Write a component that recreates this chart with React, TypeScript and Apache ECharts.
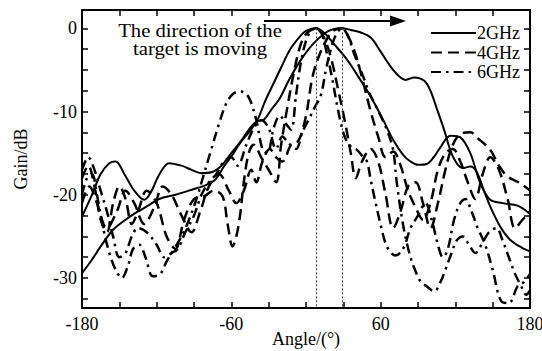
import React, { useEffect, useRef } from "react";
import * as echarts from "echarts";

// ---- data: [angle (deg), gain (dB)] ----
const s2GHzA: number[][] = [
  [-180, -29.4], [-172, -27.8], [-165, -26.2], [-155, -24.2], [-145, -23], [-135, -22], [-128, -21.4],
  [-118, -20.5], [-105, -20], [-92, -19.4], [-80, -18.8], [-73, -18.2], [-66, -16.6], [-60, -15.4],
  [-53, -13.8], [-46, -12.5], [-39, -11], [-33, -8.8], [-26, -6.6], [-19, -4.4], [-13, -2.6], [-5, -1],
  [0, -0.3], [8, 0], [15, -0.6], [22, -1.8], [30, -3.2], [35, -4.2], [42, -5.8], [48, -7.2], [55, -9],
  [62, -11], [70, -13.4], [78, -15.2], [84, -16], [90, -16.4], [97, -16.3], [103, -15.4], [108, -14.3],
  [116, -12.9], [124, -13.1], [132, -15], [140, -18.6], [148, -20.6], [158, -21], [170, -21.3], [180, -22.3],
];
const s2GHzB: number[][] = [
  [-180, -22.6], [-172, -20], [-165, -17.5], [-158, -16.2], [-153, -16], [-146, -17.5], [-138, -19.5],
  [-130, -20.6], [-124, -19.5], [-118, -17.6], [-110, -16.2], [-100, -16.5], [-92, -17], [-84, -17.4],
  [-76, -17.3], [-68, -16.5], [-60, -15], [-52, -13.5], [-46, -12.2], [-40, -11.2], [-34, -11],
  [-28, -9.8], [-21, -8.4], [-14, -6.3], [-5, -4], [5, -2], [15, -0.6], [22, -0.1], [29, 0], [36, -0.2],
  [44, -0.5], [52, -1.1], [60, -2.8], [68, -4.6], [75, -5.8], [80, -6.2], [87, -5.9], [95, -6.3],
  [100, -7.5], [105, -9.6], [111, -12.2], [118, -15.4], [126, -16.8], [132, -16.6], [137, -17.2],
  [143, -19.5], [148, -21.4], [156, -23.8], [164, -25.4], [174, -26.4], [180, -26.8],
];
const s4GHzA: number[][] = [
  [-180, -18], [-175, -16.5], [-170, -19], [-165, -23], [-160, -24.5], [-155, -21], [-150, -19],
  [-145, -20.5], [-140, -23.5], [-135, -22], [-128, -19.5], [-120, -21], [-112, -25], [-105, -26.5],
  [-98, -23], [-90, -20.5], [-82, -20.2], [-74, -19.5], [-67, -20.2], [-63, -23.5], [-59, -26.2],
  [-56, -25], [-53, -22.5], [-50, -18.5], [-46, -15], [-42, -14], [-36, -15.5], [-30, -17], [-24, -18.5],
  [-20, -14], [-15, -9.5], [-10, -5.5], [-5, -2.3], [0, -0.7], [8, 0], [14, -1], [20, -3.5], [26, -7.5],
  [31, -11], [36, -15], [40, -18], [45, -16], [52, -14.5], [58, -16], [64, -20], [70, -24], [76, -22],
  [82, -19], [88, -18.5], [94, -21], [100, -24], [106, -21], [112, -17], [118, -14], [125, -12.6],
  [132, -12.5], [138, -13.2], [148, -14.6], [155, -16.5], [162, -17.8], [172, -18.6], [180, -19.5],
];
const s4GHzB: number[][] = [
  [-180, -21], [-174, -19], [-168, -21], [-160, -24], [-152, -22], [-145, -19.5], [-138, -21],
  [-130, -23.5], [-122, -21.5], [-115, -19], [-108, -20], [-100, -22.5], [-92, -24.5], [-85, -22],
  [-78, -19], [-70, -17.5], [-62, -19.5], [-56, -21], [-50, -19.5], [-44, -17], [-40, -18.5],
  [-35, -16], [-29, -14.5], [-24, -15.5], [-19, -16], [-12, -14], [-6, -13.5], [0, -10.5], [5, -6],
  [10, -3.5], [16, -1.5], [22, -0.3], [29, 0], [34, -1], [40, -3.2], [46, -6.5], [52, -10], [58, -13],
  [64, -15.5], [70, -14.8], [76, -16.5], [82, -19.5], [88, -21.5], [94, -23], [100, -21], [106, -17],
  [112, -15], [118, -14.5], [124, -16], [130, -18.5], [136, -20.5], [142, -17.5], [148, -15.5],
  [155, -17], [162, -20.5], [168, -24], [174, -23], [180, -22],
];
const s6GHzA: number[][] = [
  [-180, -20], [-176, -18], [-172, -17.5], [-168, -20], [-163, -24], [-158, -27], [-153, -29],
  [-148, -30], [-143, -28.5], [-139, -26.5], [-134, -26], [-129, -27.5], [-123, -29.8], [-117, -29.5],
  [-112, -28], [-106, -26.5], [-100, -25], [-94, -23], [-88, -20.5], [-82, -17.5], [-76, -14.5],
  [-70, -11.5], [-64, -9], [-58, -7.8], [-52, -7.6], [-46, -8.3], [-40, -11], [-35, -14.5], [-31, -15],
  [-26, -12], [-21, -10.5], [-16, -11.5], [-12, -12.2], [-8, -8], [-4, -4], [0, -1.5], [4, -0.3],
  [8, 0], [12, -0.5], [16, -2.5], [21, -6], [26, -10], [31, -13], [36, -14.2], [41, -14.6], [46, -15.5],
  [49, -16], [52, -18.2], [56, -21], [60, -23.6], [65, -26.2], [72, -27.3], [78, -26.5], [84, -24],
  [90, -22.5], [96, -21], [101, -23], [106, -26], [110, -27.5], [114, -26.5], [119, -23], [124, -21],
  [128, -20.5], [133, -22], [138, -24], [144, -26], [150, -29], [157, -32.8], [163, -33], [170, -31],
  [175, -30.5], [180, -29.5],
];
const s6GHzB: number[][] = [
  [-180, -17], [-175, -15.5], [-170, -17], [-165, -19.5], [-160, -22], [-155, -25], [-150, -27.5],
  [-145, -27], [-140, -25], [-135, -24], [-128, -24.5], [-120, -26], [-114, -27.5], [-108, -27],
  [-103, -26.5], [-97, -24.5], [-90, -22.5], [-84, -20], [-78, -18.5], [-72, -17.5], [-66, -16],
  [-60, -15.5], [-55, -16.5], [-48, -14], [-42, -12], [-36, -11], [-30, -12], [-24, -14.5], [-19, -13],
  [-14, -13.8], [-8, -14.5], [-3, -12.5], [2, -11], [7, -9.5], [12, -8], [16, -5], [20, -2.5],
  [24, -0.8], [29, 0], [34, -1], [38, -2.8], [43, -4.7], [47, -6.2], [51, -7.8], [55, -9], [59, -10.2],
  [65, -12.2], [70, -14.6], [73, -18.6], [78, -23.6], [83, -27], [87, -28.8], [92, -30.4], [97, -31],
  [103, -31.6], [108, -30.5], [112, -29], [117, -27], [121, -25.5], [126, -25], [131, -26], [136, -27],
  [141, -26], [147, -24.5], [153, -24], [158, -25.5], [163, -27.5], [168, -29.5], [173, -31],
  [177, -32], [180, -31.5],
];
const beamAngles = [8, 29];
const xLabels = [-180, -60, 60, 180];
const xTicks = [-180, -150, -120, -90, -60, -30, 0, 30, 60, 90, 120, 150, 180];
const yLabels = [0, -10, -20, -30];
const yTicks = [0, -2.5, -5, -7.5, -10, -12.5, -15, -17.5, -20, -22.5, -25, -27.5, -30, -32.5];
const seriesNames = ["2GHz", "4GHz", "6GHz"];
const annotation = ["The direction of the", "target is moving"];

const FONT = "Liberation Serif";
const Y_MIN = -33.6;
const Y_MAX = 2.2;

export default function App() {
  const ref = useRef<HTMLDivElement>(null);
  useEffect(() => {
    if (!ref.current) return;
    const chart = echarts.init(ref.current, null, { renderer: "svg" });
    const axisLine = { show: true, onZero: false, lineStyle: { color: "#000", width: 2 } };
    const tickStyle = { color: "#000", width: 1.5 };
    const lbl = { color: "#000", fontSize: 18, fontFamily: FONT };
    const solid = { color: "#000", width: 2, type: "solid" as const };
    const dashed = { color: "#000", width: 2.5, type: [11, 6] as any };
    const dashDot = { color: "#000", width: 2.5, type: [10, 5, 2.5, 5] as any };
    const mk = (name: string, data: number[][], lineStyle: any, extra: any = {}) => ({
      type: "line",
      name,
      data,
      smooth: 0.35,
      symbol: "none",
      symbolSize: 0,
      showSymbol: false,
      lineStyle,
      itemStyle: { color: "#000" },
      ...extra,
    });
    const txt = (text: string, y: number) => ({
      type: "text",
      x: 200,
      y,
      scaleX: 1.15,
      style: {
        text,
        fontFamily: FONT,
        fontSize: 18,
        fill: "#000",
        align: "center",
        verticalAlign: "middle",
      },
    });
    chart.setOption({
      animation: false,
      backgroundColor: "#fff",
      grid: { left: 82, right: 12, top: 10, bottom: 43, containLabel: false, outerBoundsMode: "none" },
      legend: {
        orient: "vertical",
        right: 17,
        top: 19,
        itemWidth: 45,
        itemHeight: 14,
        itemGap: 1.5,
        data: seriesNames,
        itemStyle: { opacity: 0 },
        textStyle: { ...lbl, lineHeight: 16, padding: [0, 0, 0, -4] },
      },
      xAxis: [
        {
          type: "value",
          min: -180,
          max: 180,
          interval: 30,
          position: "bottom",
          axisLine,
          axisTick: { inside: true, length: 6, lineStyle: tickStyle, customValues: xTicks },
          axisLabel: { ...lbl, margin: 7, customValues: xLabels },
          splitLine: { show: false },
          name: "Angle/(°)",
          nameLocation: "middle",
          nameGap: 22,
          nameMoveOverlap: false,
          nameTextStyle: lbl,
        },
        {
          type: "value",
          min: -180,
          max: 180,
          interval: 30,
          position: "top",
          axisLine,
          axisTick: { inside: true, length: 6, lineStyle: tickStyle, customValues: xTicks },
          axisLabel: { show: false },
          splitLine: { show: false },
        },
      ],
      yAxis: [
        {
          type: "value",
          min: Y_MIN,
          max: Y_MAX,
          position: "left",
          axisLine,
          axisTick: { inside: true, length: 6, lineStyle: tickStyle, customValues: yTicks },
          axisLabel: { ...lbl, margin: 5, customValues: yLabels },
          splitLine: { show: false },
          name: "Gain/dB",
          nameLocation: "middle",
          nameGap: 52,
          nameMoveOverlap: false,
          nameTextStyle: lbl,
        },
        {
          type: "value",
          min: Y_MIN,
          max: Y_MAX,
          position: "right",
          axisLine,
          axisTick: { inside: true, length: 6, lineStyle: tickStyle, customValues: yTicks },
          axisLabel: { show: false },
          splitLine: { show: false },
        },
      ],
      series: [
        mk(seriesNames[0], s2GHzA, solid, {
          markLine: {
            silent: true,
            symbol: ["none", "none"],
            label: { show: false },
            lineStyle: { color: "#444", width: 1, type: [2, 2] },
            data: beamAngles.map((a) => [{ coord: [a, 0] }, { coord: [a, Y_MIN] }]),
          },
        }),
        mk(seriesNames[0], s2GHzB, solid),
        mk(seriesNames[1], s4GHzA, dashed),
        mk(seriesNames[1], s4GHzB, dashed),
        mk(seriesNames[2], s6GHzA, dashDot),
        mk(seriesNames[2], s6GHzB, dashDot),
      ],
      graphic: [
        txt(annotation[0], 31),
        txt(annotation[1], 49),
        {
          type: "line",
          shape: { x1: 264, y1: 21, x2: 392, y2: 21 },
          style: { stroke: "#000", lineWidth: 2 },
        },
        {
          type: "polygon",
          shape: { points: [[390, 15.5], [406, 21], [390, 26.5]] },
          style: { fill: "#000" },
        },
      ],
    });
    return () => chart.dispose();
  }, []);
  return (
    <div
      ref={ref}
      style={{ position: "fixed", left: 0, top: 0, width: 542, height: 351, background: "#fff" }}
    />
  );
}
